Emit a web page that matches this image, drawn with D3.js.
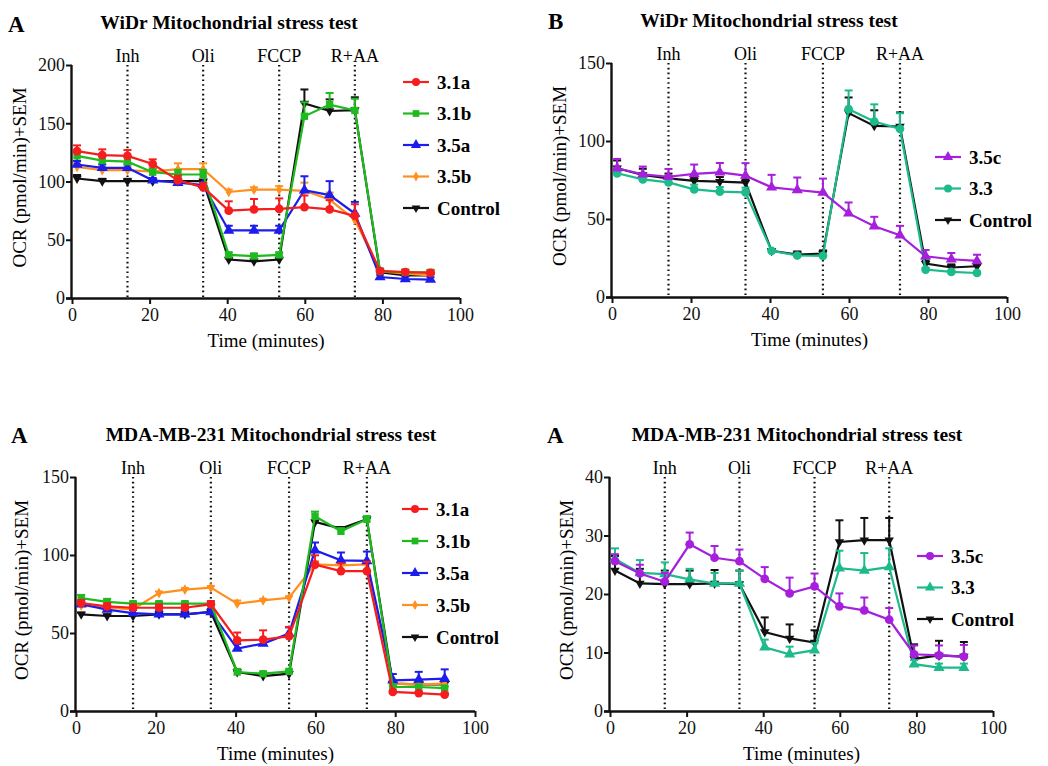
<!DOCTYPE html>
<html>
<head>
<meta charset="utf-8">
<script src="https://cdn.jsdelivr.net/npm/d3@7"></script>
<style>
  body { margin: 0; background: #fff; }
  svg, svg text { font-family: "Liberation Serif", "Times New Roman", Tinos, "DejaVu Serif", serif !important; }
</style>
</head>
<body>
<div id="chart"></div>
<script>
// Measurement times (minutes), same for all four panels
const times = [1.3, 7.8, 14.3, 20.8, 27.3, 33.8, 40.4, 46.9, 53.4, 59.9, 66.4, 72.9, 79.4, 85.9, 92.4];

// Injection markers
const injections = [14.3, 33.8, 53.4, 72.9];
const injectionLabels = ["Inh", "Oli", "FCCP", "R+AA"];

// Axis ticks
const xTicks = [0, 20, 40, 60, 80, 100];
const yTicksWidrA = [0, 50, 100, 150, 200];
const yTicks150 = [0, 50, 100, 150];
const yTicks40 = [0, 10, 20, 30, 40];

// Panel 1: WiDr, compounds 3.1a/3.1b/3.5a/3.5b
const widrA_31a = [126, 122.6, 122, 115, 101, 95, 75, 76, 76.5, 78, 76, 70.5, 23, 22.3, 21.5];
const widrA_31b = [122, 118, 117, 108, 106, 106, 37, 36, 37, 156, 166, 161, 23, 22, 22];
const widrA_35a = [114.6, 111.7, 111.7, 101, 99, 97, 58, 58, 58, 92.5, 88.3, 72.5, 18, 16.3, 15.8];
const widrA_35b = [112.6, 109.7, 109.7, 108.5, 110.6, 110.6, 91, 93, 93, 92, 84.5, 67, 23, 21, 19.5];
const widrA_ctl = [102.6, 100.3, 100.3, 100.3, 100.3, 100.3, 33, 31.5, 33, 167, 160.5, 161.3, 22, 19.5, 19.5];
const widrA_31a_sem = [5, 5, 5, 4, 4, 4, 8, 9, 9, 10, 8, 10, 2, 2, 2];
const widrA_31b_sem = [4, 4, 4, 3, 4, 4, 2, 2, 2, 12, 10, 10, 2, 2, 2];
const widrA_35a_sem = [3, 3, 3, 2, 2, 2, 4, 4, 4, 12, 12, 10, 2, 2, 2];
const widrA_35b_sem = [3, 3, 3, 3, 5, 5, 2, 2, 3, 7, 6, 3, 1, 1, 1];
const widrA_ctl_sem = [3, 2, 2, 1, 1, 1, 1, 1, 1, 12, 10, 11, 1, 1, 1];

// Panel 2: WiDr, compounds 3.5c/3.3
const widrB_35c = [82.5, 78.6, 77.1, 78.9, 79.9, 77.8, 70.3, 68.6, 66.9, 53.6, 45.4, 39.6, 26.1, 24.2, 23.1];
const widrB_33 = [79.3, 75.4, 73.5, 69, 67.5, 67.1, 29.6, 26.6, 26.4, 120.4, 112.5, 107.8, 17.6, 16.1, 15.4];
const widrB_ctl = [82.5, 78.2, 76.1, 74.4, 73.9, 73.3, 29.6, 27.2, 27.9, 117.9, 109.7, 109.3, 21.4, 18.9, 19.7];
const widrB_35c_sem = [6, 5, 5, 6, 6, 8, 8, 8, 9, 7, 6, 6, 4, 4, 4];
const widrB_33_sem = [3, 3, 3, 3, 3, 3, 1, 1, 1, 12, 11, 10, 1, 1, 1];
const widrB_ctl_sem = [5, 4, 3, 2, 3, 2, 1, 2, 2, 10, 10, 9, 2, 2, 1];

// Panel 3: MDA-MB-231, compounds 3.1a/3.1b/3.5a/3.5b
const mdaA_31a = [69.2, 67.1, 66.2, 66.2, 66.2, 68.4, 45.3, 45.7, 47.9, 93.8, 89.7, 89.7, 12.2, 11.5, 10.5];
const mdaA_31b = [72.4, 69.9, 68.8, 68.8, 68.8, 68.8, 25, 23.9, 25.4, 124.8, 115.2, 122.9, 15.4, 15.4, 14.7];
const mdaA_35a = [68.4, 65, 62.8, 62, 62, 63.5, 40, 43.2, 49.6, 103, 96.6, 96.2, 19.7, 20.1, 20.7];
const mdaA_35b = [67.7, 66.2, 65.2, 75.6, 77.8, 79.1, 68.8, 70.9, 72.6, 94, 93.4, 94, 17.5, 17.1, 17.5];
const mdaA_ctl = [62, 60.9, 60.9, 62, 62, 63.5, 25, 22.4, 23.9, 121.2, 116.9, 122.9, 17.5, 17.1, 17.1];
const mdaA_31a_sem = [2, 2, 2, 2, 2, 2, 5, 6, 6, 6, 5, 6, 1, 1, 1];
const mdaA_31b_sem = [2, 2, 1, 1, 1, 1, 2, 1, 1, 3, 2, 2, 1, 1, 1];
const mdaA_35a_sem = [2, 2, 2, 2, 2, 2, 3, 3, 4, 5, 5, 6, 4, 5, 6];
const mdaA_35b_sem = [1, 1, 1, 1, 1, 1, 2, 1, 1, 2, 2, 2, 2, 2, 2];
const mdaA_ctl_sem = [1, 1, 1, 1, 1, 1, 1, 1, 1, 1, 1, 1, 2, 2, 2];

// Panel 4: MDA-MB-231, compounds 3.5c/3.3
const mdaB_35c = [25.6, 23.5, 22.1, 28.5, 26.2, 25.6, 22.6, 20.1, 21.3, 17.9, 17.2, 15.6, 9.7, 9.5, 9.3];
const mdaB_33 = [26, 23.6, 23.4, 22.5, 21.8, 21.8, 10.9, 9.7, 10.4, 24.4, 24, 24.6, 8, 7.4, 7.4];
const mdaB_ctl = [24, 21.8, 21.7, 21.7, 21.8, 21.7, 13.5, 12.4, 11.7, 28.9, 29.2, 29.2, 8.9, 9.5, 9.3];
const mdaB_35c_sem = [1.2, 1.5, 1.5, 2, 2, 2, 2, 2.7, 2.2, 2.2, 2.2, 2, 1.5, 1.7, 2];
const mdaB_33_sem = [1.8, 2.2, 2, 1.8, 1.8, 2.2, 1.3, 1.3, 1.2, 3, 3, 3.2, 0.7, 0.7, 0.7];
const mdaB_ctl_sem = [2.5, 2.5, 2.3, 2.3, 2.3, 2.3, 2.5, 2.4, 2.1, 3.7, 3.8, 3.8, 2.5, 2.5, 2.5];

const RED = "#f51d1d", GREEN = "#1fba1f", BLUE = "#1c1ced", ORANGE = "#ff8f1f",
      PURPLE = "#a51fdc", TEAL = "#1dbb8c", BLACK = "#111";

const FONT = "'Liberation Serif', 'Times New Roman', Tinos, 'DejaVu Serif', serif";

const panels = [
  {
    letter: "A", title: "WiDr Mitochondrial stress test",
    x0: 72, x1: 460, yTop: 65, yBot: 298, yMax: 200, yTicks: yTicksWidrA,
    letterX: 8, letterY: 32, titleX: 229, titleY: 29, yLabelX: 22,
    legendX: 403, legendY: 82, legendStep: 31.5,
    series: [
      { name: "3.1a", values: widrA_31a, sem: widrA_31a_sem, color: RED, sym: d3.symbolCircle },
      { name: "3.1b", values: widrA_31b, sem: widrA_31b_sem, color: GREEN, sym: d3.symbolSquare },
      { name: "3.5a", values: widrA_35a, sem: widrA_35a_sem, color: BLUE, sym: d3.symbolTriangle },
      { name: "3.5b", values: widrA_35b, sem: widrA_35b_sem, color: ORANGE, sym: d3.symbolDiamond },
      { name: "Control", values: widrA_ctl, sem: widrA_ctl_sem, color: BLACK, sym: "down" }
    ]
  },
  {
    letter: "B", title: "WiDr Mitochondrial stress test",
    x0: 612, x1: 1007, yTop: 63, yBot: 297, yMax: 150, yTicks: yTicks150,
    letterX: 548, letterY: 29, titleX: 769, titleY: 27, yLabelX: 562,
    legendX: 935, legendY: 157, legendStep: 31.5,
    series: [
      { name: "3.5c", values: widrB_35c, sem: widrB_35c_sem, color: PURPLE, sym: d3.symbolTriangle },
      { name: "3.3", values: widrB_33, sem: widrB_33_sem, color: TEAL, sym: d3.symbolCircle },
      { name: "Control", values: widrB_ctl, sem: widrB_ctl_sem, color: BLACK, sym: "down" }
    ]
  },
  {
    letter: "A", title: "MDA-MB-231 Mitochondrial stress test",
    x0: 76, x1: 475, yTop: 477, yBot: 711, yMax: 150, yTicks: yTicks150,
    letterX: 11, letterY: 443, titleX: 271, titleY: 441, yLabelX: 24,
    legendX: 402, legendY: 509, legendStep: 32,
    series: [
      { name: "3.1a", values: mdaA_31a, sem: mdaA_31a_sem, color: RED, sym: d3.symbolCircle },
      { name: "3.1b", values: mdaA_31b, sem: mdaA_31b_sem, color: GREEN, sym: d3.symbolSquare },
      { name: "3.5a", values: mdaA_35a, sem: mdaA_35a_sem, color: BLUE, sym: d3.symbolTriangle },
      { name: "3.5b", values: mdaA_35b, sem: mdaA_35b_sem, color: ORANGE, sym: d3.symbolDiamond },
      { name: "Control", values: mdaA_ctl, sem: mdaA_ctl_sem, color: BLACK, sym: "down" }
    ]
  },
  {
    letter: "A", title: "MDA-MB-231 Mitochondrial stress test",
    x0: 610, x1: 993, yTop: 477, yBot: 711, yMax: 40, yTicks: yTicks40,
    letterX: 547, letterY: 443, titleX: 797, titleY: 441, yLabelX: 569,
    legendX: 917, legendY: 556, legendStep: 31.5,
    series: [
      { name: "3.5c", values: mdaB_35c, sem: mdaB_35c_sem, color: PURPLE, sym: d3.symbolCircle },
      { name: "3.3", values: mdaB_33, sem: mdaB_33_sem, color: TEAL, sym: d3.symbolTriangle },
      { name: "Control", values: mdaB_ctl, sem: mdaB_ctl_sem, color: BLACK, sym: "down" }
    ]
  }
];

const svg = d3.select("#chart").append("svg")
  .attr("width", 1048).attr("height", 766)
  .attr("font-family", FONT)
  .style("background", "#fff");

// draw a marker symbol at (x, y)
function marker(g, sym, x, y, color, size) {
  const down = sym === "down";
  const type = down ? d3.symbolTriangle : sym;
  let s = size;
  if (type === d3.symbolSquare) s = size * 0.9;
  if (type === d3.symbolDiamond) s = size * 0.55;
  if (type === d3.symbolTriangle) s = size * 0.9;
  if (down) s = size * 0.65;
  g.append("path")
    .attr("d", d3.symbol().type(type).size(s)())
    .attr("transform", `translate(${x},${y})` + (down ? " rotate(180)" : ""))
    .attr("fill", color);
}

function drawPanel(p) {
  const x = d3.scaleLinear().domain([0, 100]).range([p.x0, p.x1]);
  const y = d3.scaleLinear().domain([0, p.yMax]).range([p.yBot, p.yTop]);
  const g = svg.append("g");

  // panel letter and title
  g.append("text").attr("x", p.letterX).attr("y", p.letterY)
    .attr("font-family", FONT)
    .attr("font-size", 23).attr("font-weight", "bold").text(p.letter);
  g.append("text").attr("x", p.titleX).attr("y", p.titleY)
    .attr("font-family", FONT)
    .attr("text-anchor", "middle").attr("font-size", 19.5).attr("font-weight", "bold")
    .text(p.title);

  // injection lines
  injections.forEach((t, i) => {
    g.append("line")
      .attr("x1", x(t)).attr("x2", x(t))
      .attr("y1", p.yTop).attr("y2", p.yBot)
      .attr("stroke", "#111").attr("stroke-width", 2.2)
      .attr("stroke-dasharray", "1.6,3.2");
    g.append("text")
      .attr("x", x(t)).attr("y", p.yTop - 3)
      .attr("font-family", FONT)
      .attr("text-anchor", "middle").attr("font-size", 18)
      .text(injectionLabels[i]);
  });

  // axes
  const xAxis = g.append("g").attr("transform", `translate(0,${p.yBot})`)
    .call(d3.axisBottom(x).tickValues(xTicks).tickSize(6).tickPadding(4).tickSizeOuter(0));
  const yAxis = g.append("g").attr("transform", `translate(${p.x0},0)`)
    .call(d3.axisLeft(y).tickValues(p.yTicks).tickSize(6).tickPadding(1).tickSizeOuter(0));
  [xAxis, yAxis].forEach(a => {
    a.attr("font-family", FONT).attr("font-size", 18);
    a.select(".domain").attr("stroke", "#111").attr("stroke-width", 2.4);
    a.selectAll(".tick line").attr("stroke", "#111").attr("stroke-width", 2);
    a.selectAll(".tick text").attr("fill", "#111");
  });
  xAxis.select(".domain").attr("d", `M${p.x0 - 6},0.5H${p.x1}`);
  yAxis.select(".domain").attr("d", `M-0.5,${p.yBot + 1}V${p.yTop}`);

  g.append("text")
    .attr("x", (p.x0 + p.x1) / 2).attr("y", p.yBot + 49)
    .attr("font-family", FONT)
    .attr("text-anchor", "middle").attr("font-size", 19)
    .text("Time (minutes)");
  g.append("text")
    .attr("transform", `translate(${p.yLabelX},${(p.yTop + p.yBot) / 2 - 4}) rotate(-90)`)
    .attr("font-family", FONT)
    .attr("text-anchor", "middle").attr("dominant-baseline", "middle").attr("font-size", 19)
    .text("OCR (pmol/min)+SEM");

  // series, drawn bottom to top
  const line = d3.line().x((d, i) => x(times[i])).y(d => y(d));
  p.series.slice().reverse().forEach(s => {
    const sg = g.append("g");
    // error bars (+SEM only)
    s.values.forEach((v, i) => {
      const cx = x(times[i]);
      sg.append("line").attr("x1", cx).attr("x2", cx)
        .attr("y1", y(v)).attr("y2", y(v + s.sem[i]))
        .attr("stroke", s.color).attr("stroke-width", 2);
      sg.append("line").attr("x1", cx - 4).attr("x2", cx + 4)
        .attr("y1", y(v + s.sem[i])).attr("y2", y(v + s.sem[i]))
        .attr("stroke", s.color).attr("stroke-width", 2);
    });
    sg.append("path").datum(s.values)
      .attr("d", line).attr("fill", "none")
      .attr("stroke", s.color).attr("stroke-width", 2.2);
    s.values.forEach((v, i) => marker(sg, s.sym, x(times[i]), y(v), s.color, 60));
  });

  // legend
  p.series.forEach((s, i) => {
    const ly = p.legendY + i * p.legendStep;
    const lg = g.append("g");
    lg.append("line").attr("x1", p.legendX).attr("x2", p.legendX + 26)
      .attr("y1", ly).attr("y2", ly)
      .attr("stroke", s.color).attr("stroke-width", 2.2);
    marker(lg, s.sym, p.legendX + 13, ly, s.color, 50);
    lg.append("text").attr("x", p.legendX + 34).attr("y", ly)
      .attr("font-family", FONT)
      .attr("dominant-baseline", "central")
      .attr("font-size", 19).attr("font-weight", "bold")
      .text(s.name);
  });
}

panels.forEach(drawPanel);
</script>
</body>
</html>
